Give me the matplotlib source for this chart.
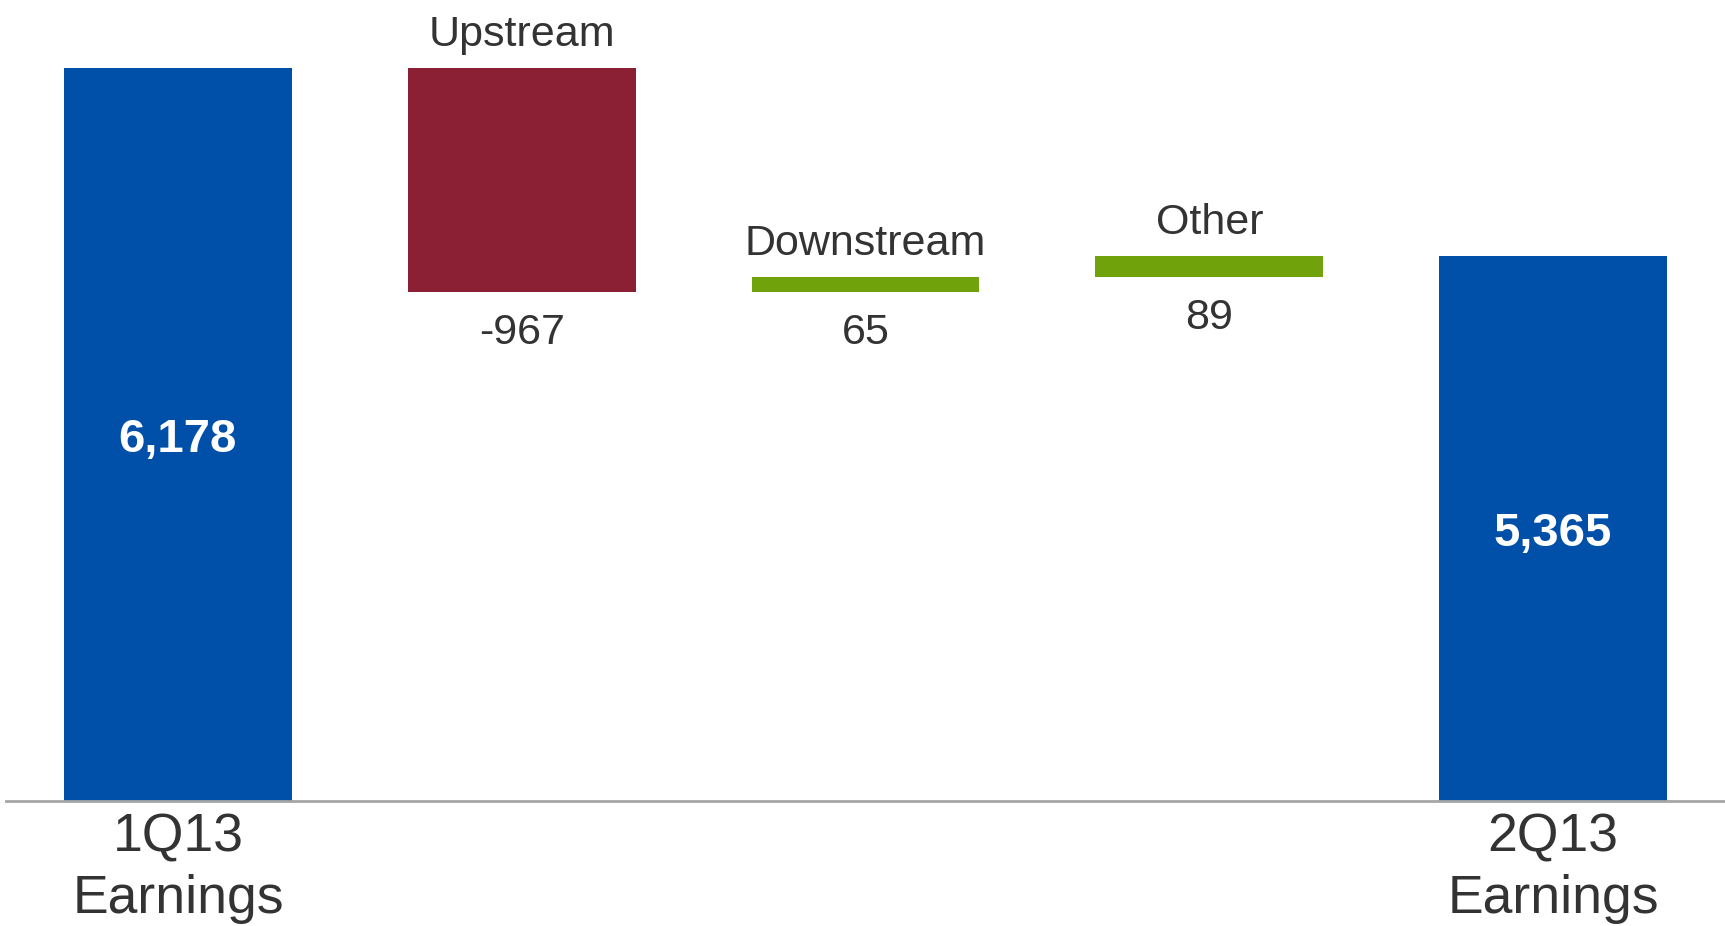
import matplotlib.pyplot as plt
import numpy as np

plt.rcParams['font.family'] = ['Liberation Sans', 'DejaVu Sans']

# quarter-over-quarter earnings walk ($M)
steps = ['1Q13\nEarnings', 'Upstream', 'Downstream', 'Other', '2Q13\nEarnings']
start = 6178
changes = [-967, 65, 89]
end = 5365

blue = '#0050AA'
red = '#8B2035'
green = '#6FA20B'
txt = '#333333'

x = np.arange(len(steps))
width = 0.663

# axis is cut off well above zero so the small moves are visible
ylo, yhi = 3013, 6472

fig = plt.figure(figsize=(17.25, 9.26), dpi=100)
ax = fig.add_axes([6 / 1725, 125 / 926, 1 - 6 / 1725, 1 - 125 / 926])

# totals, drawn from zero and clipped at the bottom of the axis
ax.bar([x[0], x[-1]], [start, end], width, color=blue, zorder=2)
for xi, v in [(x[0], start), (x[-1], end)]:
    ax.annotate(format(v, ','), (xi, (ylo + v) / 2), xytext=(0, -4),
                textcoords='offset points', ha='center', va='center',
                color='white', fontsize=34, fontweight='bold')

# floating changes
level = start
for i, d in enumerate(changes):
    xi = x[i + 1]
    lo = min(level, level + d)
    hi = max(level, level + d)
    col = red if d < 0 else green
    ax.bar(xi, hi - lo, width, bottom=lo, color=col, zorder=2)
    ax.annotate(steps[i + 1], (xi, hi), xytext=(0, 16), textcoords='offset points',
                ha='center', va='baseline', fontsize=31, color=txt)
    ax.annotate(str(d), (xi, lo), xytext=(0, -15), textcoords='offset points',
                ha='center', va='top', fontsize=31, color=txt)
    level += d

ax.set_xlim(-0.5, 4.5)
ax.set_ylim(ylo, yhi)
ax.set_xticks([x[0], x[-1]])
ax.set_xticklabels([steps[0], steps[-1]], fontsize=38.5, color=txt, linespacing=1.3)
ax.tick_params(axis='x', length=0, pad=8)
ax.set_yticks([])
for s in ['top', 'left', 'right']:
    ax.spines[s].set_visible(False)
ax.spines['bottom'].set_color('#A6A6A6')
ax.spines['bottom'].set_linewidth(2)
ax.spines['bottom'].set_zorder(3)

plt.savefig('out.png', dpi=100)
